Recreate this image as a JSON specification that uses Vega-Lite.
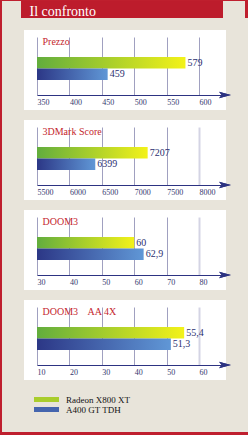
{
  "$schema": "https://vega.github.io/schema/vega-lite/v6.json",
  "background": "#e8e4da",
  "padding": 0,
  "spacing": 0,
  "config": {
    "view": {"stroke": null},
    "font": "Liberation Serif",
    "locale": {"number": {"decimal": ",", "thousands": ".", "grouping": [3], "currency": ["", " €"]}}
  },
  "vconcat": [
    {"width": 248, "height": 1, "view": {"fill": "#bf1f2e", "stroke": null}, "data": {"values": [{}]}, "mark": {"type": "point", "opacity": 0, "size": 0}},
    {
      "spacing": 0,
      "hconcat": [
        {"width": 2, "height": 17, "view": {"fill": "#bf1f2e", "stroke": null}, "data": {"values": [{}]}, "mark": {"type": "point", "opacity": 0, "size": 0}},
        {"width": 19, "height": 17, "data": {"values": [{}]}, "mark": {"type": "point", "opacity": 0, "size": 0}},
        {
          "width": 202, "height": 17,
          "view": {"fill": "#bd1c2c", "stroke": null},
          "data": {"values": [{"k": "header"}]},
          "mark": {"type": "point", "opacity": 0, "size": 0},
          "encoding": {
            "y": {"field": "k", "type": "nominal",
              "axis": {"orient": "left", "domain": false, "ticks": false, "labels": false, "grid": false, "title": "Il confronto", "titleAngle": 0, "titleX": 8, "titleY": 14, "titleAlign": "left", "titleBaseline": "alphabetic", "titleFont": "Liberation Serif", "titleFontSize": 14, "titleFontWeight": "normal", "titleColor": "#ffffff"}}
          }
        },
        {"width": 22, "height": 17, "data": {"values": [{}]}, "mark": {"type": "point", "opacity": 0, "size": 0}},
        {"width": 3, "height": 17, "view": {"fill": "#bf1f2e", "stroke": null}, "data": {"values": [{}]}, "mark": {"type": "point", "opacity": 0, "size": 0}}
      ]
    },
    {
      "spacing": 0,
      "hconcat": [
        {"width": 2, "height": 414, "view": {"fill": "#bf1f2e", "stroke": null}, "data": {"values": [{}]}, "mark": {"type": "point", "opacity": 0, "size": 0}},
        {"width": 19, "height": 414, "data": {"values": [{}]}, "mark": {"type": "point", "opacity": 0, "size": 0}},
        {
          "spacing": -10,
          "vconcat": [
            {"width": 1, "height": 13, "data": {"values": [{}]}, "mark": {"type": "point", "opacity": 0, "size": 0}},
            {
              "width": 172, "height": 50,
              "view": {"fill": "white", "stroke": "white", "strokeWidth": 30, "strokeJoin": "miter"},
              "data": {"values": [{"series": "Radeon X800 XT", "value": 579}, {"series": "A400 GT TDH", "value": 459}]},
              "encoding": {
                "x": {"field": "value", "type": "quantitative", "scale": {"domain": [350, 640], "range": [-2, 186], "zero": false, "nice": false},
                  "axis": {"values": [350, 400, 450, 500, 550, 600], "format": "d", "title": null, "grid": false, "domainColor": "#2d3382", "domainWidth": 1, "tickColor": "#a0a0c0", "tickWidth": 1, "tickSize": -58, "labelAlign": "left", "labelBaseline": "top", "labelPadding": 61, "labelFont": "Liberation Serif", "labelFontSize": 8, "labelColor": "#34376e", "labelFlush": false, "labelOverlap": false, "labelBound": false}},
                "y": {"field": "series", "type": "nominal", "scale": {"domain": ["Radeon X800 XT", "A400 GT TDH"], "range": [12, 35], "paddingInner": 0, "paddingOuter": 0},
                  "axis": {"orient": "left", "domain": false, "ticks": false, "labels": false, "grid": false, "title": "Prezzo", "titleAngle": 0, "titleX": 3, "titleY": -1, "titleAlign": "left", "titleBaseline": "alphabetic", "titleFont": "Liberation Serif", "titleFontSize": 10, "titleFontWeight": "normal", "titleColor": "#c4262e"}}
              },
              "layer": [
                {
                  "transform": [{"filter": "datum.series === 'Radeon X800 XT'"}],
                  "mark": {"type": "bar", "color": {"gradient": "linear", "x1": 0, "y1": 0, "x2": 1, "y2": 0, "stops": [{"offset": 0, "color": "#62ad3d"}, {"offset": 1, "color": "#f3f219"}]}},
                  "encoding": {"x2": {"datum": 350}}
                },
                {
                  "transform": [{"filter": "datum.series === 'A400 GT TDH'"}],
                  "mark": {"type": "bar", "color": {"gradient": "linear", "x1": 0, "y1": 0, "x2": 1, "y2": 0, "stops": [{"offset": 0, "color": "#2c3786"}, {"offset": 1, "color": "#6097d6"}]}},
                  "encoding": {"x2": {"datum": 350}}
                },
                {
                  "mark": {"type": "text", "align": "left", "baseline": "middle", "dx": 2, "font": "Liberation Serif", "fontSize": 10, "color": "#2b2f70"},
                  "encoding": {"text": {"field": "value", "type": "quantitative", "format": "~g"}}
                },
                {
                  "mark": {"type": "point", "filled": true, "opacity": 1, "size": 0},
                  "encoding": {
                    "color": {"field": "series", "type": "nominal", "scale": {"domain": ["Radeon X800 XT", "A400 GT TDH"], "range": ["#a9cd2c", "#4565ae"]},
                      "legend": {"orient": "none", "legendX": 42, "legendY": 395, "title": null, "direction": "vertical", "symbolType": "M-5,-1L5,-1L5,1L-5,1Z", "symbolSize": 25, "symbolOpacity": 1, "symbolStrokeWidth": 0, "labelFont": "Liberation Serif", "labelFontSize": 9, "labelColor": "#111111", "labelOffset": 15, "rowPadding": 0}}
                  }
                },
                {
                  "mark": {"type": "point", "shape": "M-1,-0.55L1,0L-1,0.55L-0.55,0Z", "filled": true, "color": "#2d3382", "size": 144, "opacity": 1},
                  "encoding": {"x": {"datum": 640}, "y": {"value": "height"}}
                }
              ]
            },
            {
              "width": 172, "height": 50,
              "view": {"fill": "white", "stroke": "white", "strokeWidth": 30, "strokeJoin": "miter"},
              "data": {"values": [{"series": "Radeon X800 XT", "value": 7207}, {"series": "A400 GT TDH", "value": 6399}]},
              "encoding": {
                "x": {"field": "value", "type": "quantitative", "scale": {"domain": [5500, 8400], "range": [-2, 186], "zero": false, "nice": false},
                  "axis": {"values": [5500, 6000, 6500, 7000, 7500, 8000], "format": "d", "title": null, "grid": false, "domainColor": "#2d3382", "domainWidth": 1,
                    "tickColor": {"condition": {"test": "datum.value >= 8000", "value": "#d4d4e4"}, "value": "#a0a0c0"},
                    "tickWidth": {"condition": {"test": "datum.value >= 8000", "value": 2}, "value": 1},
                    "tickSize": -58, "labelAlign": "left", "labelBaseline": "top", "labelPadding": 61, "labelFont": "Liberation Serif", "labelFontSize": 8, "labelColor": "#34376e", "labelFlush": false, "labelOverlap": false, "labelBound": false}},
                "y": {"field": "series", "type": "nominal", "scale": {"domain": ["Radeon X800 XT", "A400 GT TDH"], "range": [12, 35], "paddingInner": 0, "paddingOuter": 0},
                  "axis": {"orient": "left", "domain": false, "ticks": false, "labels": false, "grid": false, "title": "3DMark Score", "titleAngle": 0, "titleX": 3, "titleY": -1, "titleAlign": "left", "titleBaseline": "alphabetic", "titleFont": "Liberation Serif", "titleFontSize": 10, "titleFontWeight": "normal", "titleColor": "#c4262e"}}
              },
              "layer": [
                {
                  "transform": [{"filter": "datum.series === 'Radeon X800 XT'"}],
                  "mark": {"type": "bar", "color": {"gradient": "linear", "x1": 0, "y1": 0, "x2": 1, "y2": 0, "stops": [{"offset": 0, "color": "#62ad3d"}, {"offset": 1, "color": "#f3f219"}]}},
                  "encoding": {"x2": {"datum": 5500}}
                },
                {
                  "transform": [{"filter": "datum.series === 'A400 GT TDH'"}],
                  "mark": {"type": "bar", "color": {"gradient": "linear", "x1": 0, "y1": 0, "x2": 1, "y2": 0, "stops": [{"offset": 0, "color": "#2c3786"}, {"offset": 1, "color": "#6097d6"}]}},
                  "encoding": {"x2": {"datum": 5500}}
                },
                {
                  "mark": {"type": "text", "align": "left", "baseline": "middle", "dx": 2, "font": "Liberation Serif", "fontSize": 10, "color": "#2b2f70"},
                  "encoding": {"text": {"field": "value", "type": "quantitative", "format": "~g"}}
                },
                {
                  "mark": {"type": "point", "shape": "M-1,-0.55L1,0L-1,0.55L-0.55,0Z", "filled": true, "color": "#2d3382", "size": 144, "opacity": 1},
                  "encoding": {"x": {"datum": 8400}, "y": {"value": "height"}}
                }
              ]
            },
            {
              "width": 172, "height": 50,
              "view": {"fill": "white", "stroke": "white", "strokeWidth": 30, "strokeJoin": "miter"},
              "data": {"values": [{"series": "Radeon X800 XT", "value": 60}, {"series": "A400 GT TDH", "value": 62.9}]},
              "encoding": {
                "x": {"field": "value", "type": "quantitative", "scale": {"domain": [30, 88], "range": [-2, 186], "zero": false, "nice": false},
                  "axis": {"values": [30, 40, 50, 60, 70, 80], "format": "d", "title": null, "grid": false, "domainColor": "#2d3382", "domainWidth": 1,
                    "tickColor": {"condition": {"test": "datum.value >= 80", "value": "#d4d4e4"}, "value": "#a0a0c0"},
                    "tickWidth": {"condition": {"test": "datum.value >= 80", "value": 2}, "value": 1},
                    "tickSize": -58, "labelAlign": "left", "labelBaseline": "top", "labelPadding": 61, "labelFont": "Liberation Serif", "labelFontSize": 8, "labelColor": "#34376e", "labelFlush": false, "labelOverlap": false, "labelBound": false}},
                "y": {"field": "series", "type": "nominal", "scale": {"domain": ["Radeon X800 XT", "A400 GT TDH"], "range": [12, 35], "paddingInner": 0, "paddingOuter": 0},
                  "axis": {"orient": "left", "domain": false, "ticks": false, "labels": false, "grid": false, "title": "DOOM3", "titleAngle": 0, "titleX": 3, "titleY": -1, "titleAlign": "left", "titleBaseline": "alphabetic", "titleFont": "Liberation Serif", "titleFontSize": 10, "titleFontWeight": "normal", "titleColor": "#c4262e"}}
              },
              "layer": [
                {
                  "transform": [{"filter": "datum.series === 'Radeon X800 XT'"}],
                  "mark": {"type": "bar", "color": {"gradient": "linear", "x1": 0, "y1": 0, "x2": 1, "y2": 0, "stops": [{"offset": 0, "color": "#62ad3d"}, {"offset": 1, "color": "#f3f219"}]}},
                  "encoding": {"x2": {"datum": 30}}
                },
                {
                  "transform": [{"filter": "datum.series === 'A400 GT TDH'"}],
                  "mark": {"type": "bar", "color": {"gradient": "linear", "x1": 0, "y1": 0, "x2": 1, "y2": 0, "stops": [{"offset": 0, "color": "#2c3786"}, {"offset": 1, "color": "#6097d6"}]}},
                  "encoding": {"x2": {"datum": 30}}
                },
                {
                  "mark": {"type": "text", "align": "left", "baseline": "middle", "dx": 2, "font": "Liberation Serif", "fontSize": 10, "color": "#2b2f70"},
                  "encoding": {"text": {"field": "value", "type": "quantitative", "format": "~g"}}
                },
                {
                  "mark": {"type": "point", "shape": "M-1,-0.55L1,0L-1,0.55L-0.55,0Z", "filled": true, "color": "#2d3382", "size": 144, "opacity": 1},
                  "encoding": {"x": {"datum": 88}, "y": {"value": "height"}}
                }
              ]
            },
            {
              "width": 172, "height": 50,
              "view": {"fill": "white", "stroke": "white", "strokeWidth": 30, "strokeJoin": "miter"},
              "data": {"values": [{"series": "Radeon X800 XT", "value": 55.4}, {"series": "A400 GT TDH", "value": 51.3}]},
              "encoding": {
                "x": {"field": "value", "type": "quantitative", "scale": {"domain": [10, 68], "range": [-2, 186], "zero": false, "nice": false},
                  "axis": {"values": [10, 20, 30, 40, 50, 60], "format": "d", "title": null, "grid": false, "domainColor": "#2d3382", "domainWidth": 1,
                    "tickColor": {"condition": {"test": "datum.value >= 60", "value": "#d4d4e4"}, "value": "#a0a0c0"},
                    "tickWidth": {"condition": {"test": "datum.value >= 60", "value": 2}, "value": 1},
                    "tickSize": -58, "labelAlign": "left", "labelBaseline": "top", "labelPadding": 61, "labelFont": "Liberation Serif", "labelFontSize": 8, "labelColor": "#34376e", "labelFlush": false, "labelOverlap": false, "labelBound": false}},
                "y": {"field": "series", "type": "nominal", "scale": {"domain": ["Radeon X800 XT", "A400 GT TDH"], "range": [12, 35], "paddingInner": 0, "paddingOuter": 0},
                  "axis": {"orient": "left", "domain": false, "ticks": false, "labels": false, "grid": false, "title": "DOOM3\u00a0\u00a0\u00a0 AA 4X", "titleAngle": 0, "titleX": 3, "titleY": -1, "titleAlign": "left", "titleBaseline": "alphabetic", "titleFont": "Liberation Serif", "titleFontSize": 10, "titleFontWeight": "normal", "titleColor": "#c4262e"}}
              },
              "layer": [
                {
                  "transform": [{"filter": "datum.series === 'Radeon X800 XT'"}],
                  "mark": {"type": "bar", "color": {"gradient": "linear", "x1": 0, "y1": 0, "x2": 1, "y2": 0, "stops": [{"offset": 0, "color": "#62ad3d"}, {"offset": 1, "color": "#f3f219"}]}},
                  "encoding": {"x2": {"datum": 10}}
                },
                {
                  "transform": [{"filter": "datum.series === 'A400 GT TDH'"}],
                  "mark": {"type": "bar", "color": {"gradient": "linear", "x1": 0, "y1": 0, "x2": 1, "y2": 0, "stops": [{"offset": 0, "color": "#2c3786"}, {"offset": 1, "color": "#6097d6"}]}},
                  "encoding": {"x2": {"datum": 10}}
                },
                {
                  "mark": {"type": "text", "align": "left", "baseline": "middle", "dx": 2, "font": "Liberation Serif", "fontSize": 10, "color": "#2b2f70"},
                  "encoding": {"text": {"field": "value", "type": "quantitative", "format": "~g"}}
                },
                {
                  "mark": {"type": "point", "shape": "M-1,-0.55L1,0L-1,0.55L-0.55,0Z", "filled": true, "color": "#2d3382", "size": 144, "opacity": 1},
                  "encoding": {"x": {"datum": 68}, "y": {"value": "height"}}
                }
              ]
            }
          ]
        },
        {"width": 17, "height": 414, "data": {"values": [{}]}, "mark": {"type": "point", "opacity": 0, "size": 0}},
        {"width": 3, "height": 414, "view": {"fill": "#bf1f2e", "stroke": null}, "data": {"values": [{}]}, "mark": {"type": "point", "opacity": 0, "size": 0}}
      ]
    },
    {"width": 248, "height": 3, "view": {"fill": "#bf1f2e", "stroke": null}, "data": {"values": [{}]}, "mark": {"type": "point", "opacity": 0, "size": 0}}
  ]
}
